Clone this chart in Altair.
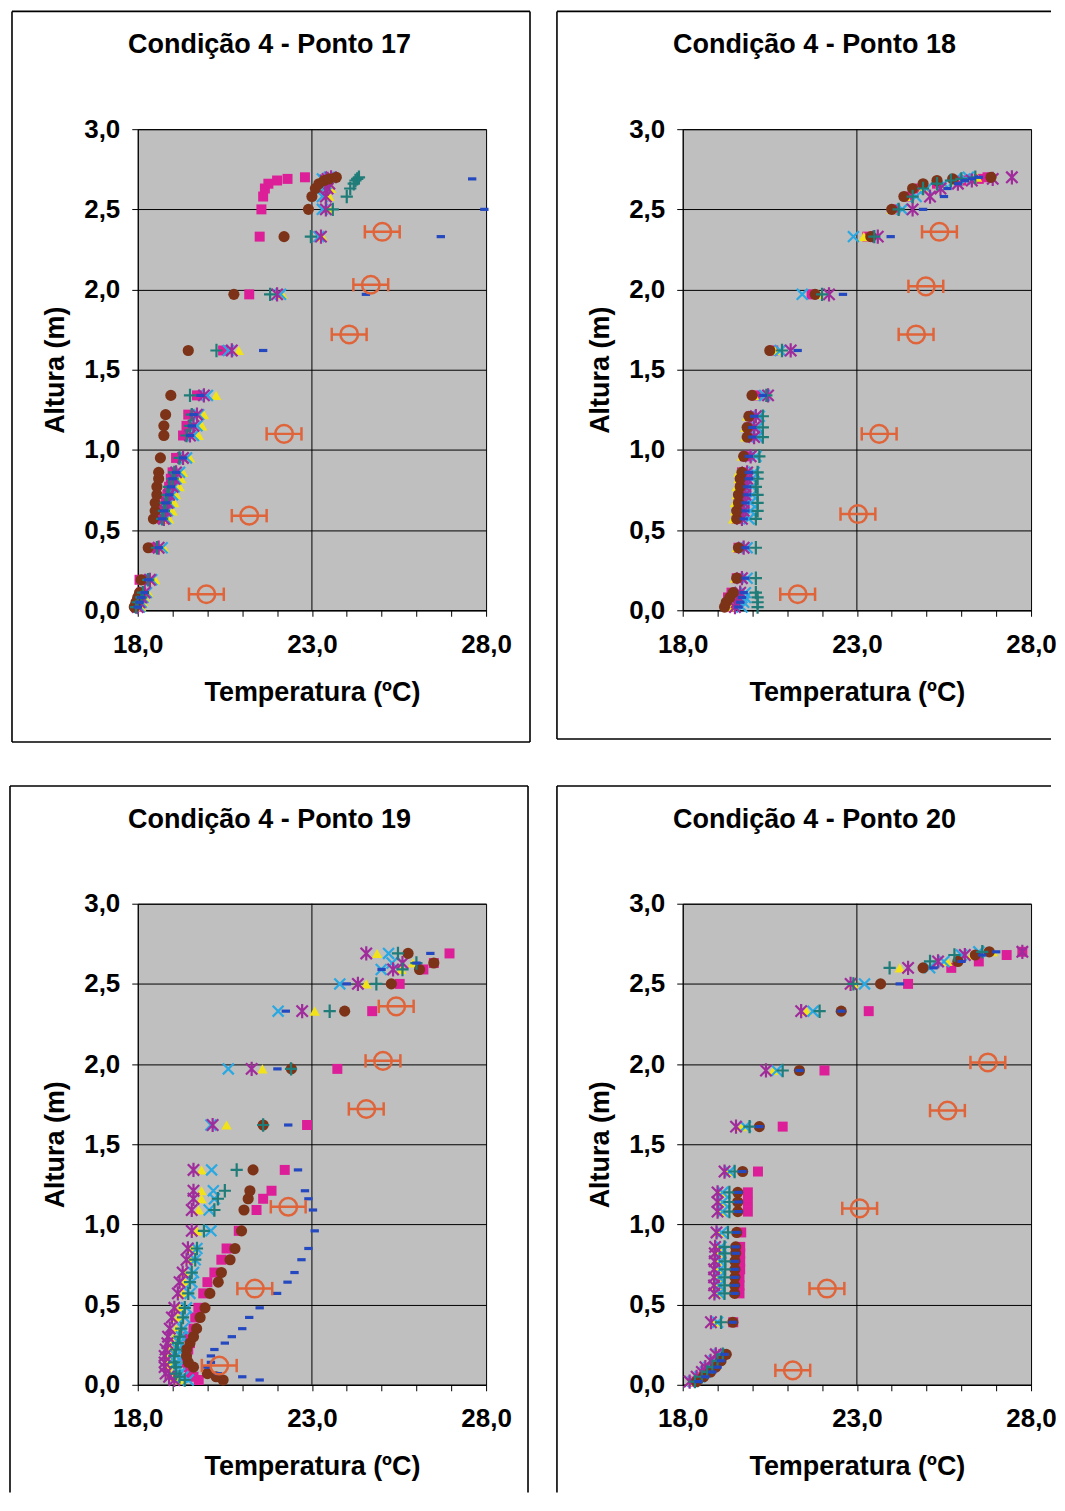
import altair as alt
import pandas as pd

FONT = "Liberation Sans"

# ---------------- data ----------------
X_TICKS = [18, 19, 20, 21, 22, 23, 24, 25, 26, 27, 28]
Y_TICKS = [0.0, 0.5, 1.0, 1.5, 2.0, 2.5, 3.0]
GRID_X = [23]

TITLES = ["Condição 4 - Ponto 17", "Condição 4 - Ponto 18",
          "Condição 4 - Ponto 19", "Condição 4 - Ponto 20"]

# Ponto 17
H17 = [0.02, 0.05, 0.08, 0.11, 0.19, 0.39, 0.57, 0.62, 0.67, 0.72, 0.77, 0.82, 0.86, 0.95,
       1.09, 1.15, 1.22, 1.34, 1.62, 1.97, 2.33, 2.50, 2.58, 2.63, 2.66, 2.68, 2.69, 2.70]
SQ17 = [17.95, 18.0, 18.05, 18.1, 18.05, 18.45, 18.7, 18.75, 18.8, 18.85, 18.9, 18.95, 19.0, 19.1,
        19.3, 19.4, 19.45, 19.7, 20.45, 21.2, 21.5, 21.55, 21.6, 21.65, 21.75, 22.0, 22.3, 22.8]
TRI17 = [18.1, 18.15, 18.2, 18.3, 18.5, 18.75, 18.9, 19.0, 19.05, 19.1, 19.2, 19.25, 19.3, 19.5,
         19.75, 19.85, 19.9, 20.25, 20.9, 22.15, 23.3, 23.5, 23.5, 23.55, 23.5, 23.45, 23.5, 23.4]
X17 = [18.05, 18.1, 18.15, 18.25, 18.4, 18.7, 18.8, 18.85, 18.9, 19.0, 19.05, 19.1, 19.2, 19.4,
       19.6, 19.7, 19.75, 20.0, 20.6, 22.1, 23.2, 23.3, 23.3, 23.35, 23.4, 23.35, 23.3, 23.5]
AST17 = [18.0, 18.05, 18.1, 18.2, 18.35, 18.6, 18.75, 18.8, 18.85, 18.9, 19.0, 19.05, 19.1, 19.3,
         19.5, 19.6, 19.7, 19.9, 20.7, 22.0, 23.26, 23.4, 23.4, 23.45, 23.5, 23.4, 23.45, 23.55]
CIR17 = [17.9, 17.95, 18.0, 18.05, 18.1, 18.3, 18.45, 18.5, 18.5, 18.55, 18.55, 18.6, 18.6, 18.65,
         18.75, 18.75, 18.8, 18.95, 19.45, 20.76, 22.2, 22.9, 23.0, 23.1, 23.2, 23.35, 23.5, 23.7]
PLUS17 = [17.95, 18.0, 18.1, 18.15, 18.3, 18.55, 18.7, 18.75, 18.8, 18.85, 18.9, 19.0, 19.05, 19.2,
          19.4, 19.5, 19.55, 19.5, 20.26, 21.8, 22.97, 23.6, 24.0, 24.1, 24.2, 24.25, 24.3, 24.35]
DASH17 = [18.0, 18.05, 18.1, 18.2, 18.3, 18.6, 18.7, 18.75, 18.8, 18.9, 18.95, 19.0, 19.1, 19.3,
          19.5, 19.55, 19.6, 19.8, 21.6, 24.55, 26.7, 27.95, None, None, None, None, 27.6, None]
REF17_T = [19.97, 21.2, 22.2, 24.07, 24.69, 25.02]
REF17_H = [0.10, 0.59, 1.10, 1.72, 2.03, 2.36]

# Ponto 18
H18 = [0.02, 0.05, 0.08, 0.11, 0.20, 0.39, 0.57, 0.62, 0.67, 0.72, 0.77, 0.82, 0.86, 0.96,
       1.08, 1.14, 1.21, 1.34, 1.62, 1.97, 2.33, 2.50, 2.58, 2.63, 2.66, 2.68, 2.69, 2.70]
SQ18 = [19.3, 19.35, 19.3, 19.4, 19.55, 19.6, 19.55, 19.6, 19.6, 19.65, 19.65, 19.7, 19.7, 19.8,
        19.9, 19.9, 19.95, 20.1, 20.6, 21.7, 23.3, 24.1, 24.5, 24.8, 25.3, 26.0, 26.5, 26.75]
TRI18 = [19.35, 19.4, 19.45, 19.5, 19.5, 19.55, 19.45, 19.5, 19.5, 19.55, 19.55, 19.6, 19.6, 19.7,
         19.8, 19.8, 19.85, 20.05, 20.65, 21.9, 23.2, 24.0, 24.4, 24.9, 25.4, 25.9, 26.3, 26.45]
X18 = [19.7, 19.75, 19.8, 19.8, 19.85, 19.85, 19.9, 19.95, 19.95, 20.0, 20.0, 20.0, 20.05, 20.1,
       20.15, 20.15, 20.2, 20.35, 20.8, 21.43, 22.9, 24.3, 24.7, 25.0, 25.5, 25.8, 26.1, 26.2]
AST18 = [19.5, 19.55, 19.6, 19.65, 19.7, 19.75, 19.7, 19.75, 19.75, 19.8, 19.8, 19.85, 19.85, 19.95,
         20.05, 20.05, 20.1, 20.45, 21.1, 22.2, 23.6, 24.6, 25.1, 25.4, 25.9, 26.3, 26.9, 27.45]
CIR18 = [19.2, 19.25, 19.35, 19.45, 19.55, 19.6, 19.55, 19.55, 19.6, 19.6, 19.65, 19.65, 19.7, 19.75,
         19.85, 19.85, 19.9, 19.99, 20.5, 21.8, 23.4, 24.0, 24.35, 24.6, 24.9, 25.3, 25.75, 26.85]
PLUS18 = [20.15, 20.15, 20.15, 20.1, 20.1, 20.1, 20.1, 20.15, 20.15, 20.15, 20.1, 20.15, 20.15, 20.2,
          20.3, 20.3, 20.3, 20.4, 20.85, 22.0, 23.5, 24.2, 24.6, 24.9, 25.3, 25.7, 26.0, 26.4]
DASH18 = [19.6, 19.65, 19.7, 19.75, 19.8, 19.8, 19.75, 19.8, 19.8, 19.85, 19.85, 19.9, 19.9, 19.9,
          20.0, 20.0, 20.05, 20.3, 21.3, 22.6, 23.97, 24.9, 25.5, 25.6, 25.9, 26.1, 26.3, 26.5]
REF18_T = [21.3, 23.03, 23.64, 24.7, 24.98, 25.37]
REF18_H = [0.10, 0.60, 1.10, 1.72, 2.02, 2.36]

# Ponto 19
H19 = [0.03, 0.05, 0.07, 0.11, 0.14, 0.18, 0.22, 0.26, 0.30, 0.35, 0.42, 0.48, 0.57, 0.64, 0.70,
       0.78, 0.85, 0.96, 1.09, 1.16, 1.21, 1.34, 1.62, 1.97, 2.33, 2.50, 2.59, 2.63, 2.69]
SQ19 = [19.75, 19.6, 19.5, 19.45, 19.4, 19.4, 19.45, 19.5, 19.45, 19.6, 19.65, 19.74, 19.88, 20.0, 20.2,
        20.4, 20.55, 20.9, 21.41, 21.6, 21.84, 22.22, 22.86, 23.73, 24.73, 25.52, 26.2, 26.5, 26.95]
TRI19 = [19.2, 19.05, 18.95, 18.9, 18.9, 18.9, 18.95, 19.0, 19.05, 19.1, 19.15, 19.2, 19.3, 19.35, 19.35,
         19.5, 19.55, 19.7, 19.75, 19.83, 19.83, 19.83, 20.55, 21.58, 23.08, 24.56, 25.56, 25.9, 24.87]
X19 = [19.45, 19.3, 19.2, 19.15, 19.1, 19.1, 19.15, 19.2, 19.25, 19.3, 19.35, 19.4, 19.5, 19.55, 19.6,
       19.65, 19.7, 20.1, 20.05, 20.2, 20.17, 20.12, 20.1, 20.6, 22.03, 23.8, 24.99, 25.3, 25.2]
AST19 = [19.05, 18.9, 18.8, 18.77, 18.77, 18.77, 18.8, 18.85, 18.87, 18.92, 18.98, 19.05, 19.15, 19.2, 19.29,
         19.4, 19.44, 19.55, 19.55, 19.6, 19.6, 19.6, 20.15, 21.27, 22.72, 24.32, 25.33, 25.6, 24.56]
CIR19 = [20.45, 20.25, 20.0, 19.6, 19.45, 19.4, 19.4, 19.5, 19.6, 19.69, 19.79, 19.93, 20.07, 20.31, 20.4,
         20.65, 20.79, 20.98, 21.05, 21.17, 21.22, 21.31, 21.6, 22.41, 23.94, 25.28, 26.09, 26.5, 25.76]
PLUS19 = [19.35, 19.2, 19.1, 19.1, 19.05, 19.05, 19.1, 19.15, 19.2, 19.25, 19.3, 19.35, 19.45, 19.5, 19.55,
          19.65, 19.7, 19.9, 20.2, 20.3, 20.5, 20.84, 21.6, 22.4, 23.51, 24.85, 25.6, 26.0, 25.47]
DASH19 = [21.5, 21.0, 20.3, 20.0, 20.1, 20.1, 20.2, 20.5, 20.7, 21.0, 21.2, 21.5, 22.0, 22.3, 22.5,
          22.7, 22.9, 23.08, 23.03, 22.9, 22.8, 22.6, 22.32, 22.01, 22.25, 24.0, 25.0, 26.0, 26.4]
REF19_T = [20.34, 21.36, 22.32, 24.56, 25.04, 25.42]
REF19_H = [0.12, 0.60, 1.11, 1.72, 2.02, 2.36]

# Ponto 20
H20 = [0.02, 0.05, 0.08, 0.11, 0.15, 0.19, 0.39, 0.57, 0.62, 0.67, 0.72, 0.77, 0.82, 0.86,
       0.95, 1.08, 1.14, 1.20, 1.33, 1.61, 1.96, 2.33, 2.50, 2.60, 2.64, 2.68, 2.70]
SQ20 = [18.3, 18.5, 18.7, 18.85, 19.0, 19.15, 19.45, 19.63, 19.63, 19.63, 19.65, 19.65, 19.65, 19.65,
        19.68, 19.87, 19.87, 19.87, 20.16, 20.87, 22.07, 23.34, 24.47, 25.71, 26.5, 27.3, 27.75]
TRI20 = [18.25, 18.45, 18.6, 18.7, 18.85, 19.0, 18.9, 18.98, 18.98, 19.0, 19.0, 19.0, 19.02, 19.02,
         19.05, 19.1, 19.1, 19.1, 19.3, 19.7, 20.6, 21.55, 22.9, 24.23, 25.6, 26.3, 26.9]
X20 = [18.3, 18.5, 18.65, 18.75, 18.9, 19.05, 19.0, 19.05, 19.05, 19.05, 19.08, 19.08, 19.1, 19.1,
       19.12, 19.15, 19.15, 19.15, 19.35, 19.8, 20.7, 21.74, 23.22, 25.09, 25.5, 26.0, 26.5]
AST20 = [18.2, 18.4, 18.55, 18.65, 18.8, 18.95, 18.81, 18.91, 18.9, 18.9, 18.9, 18.92, 18.92, 18.93,
         18.97, 19.0, 19.0, 19.0, 19.2, 19.53, 20.39, 21.4, 22.82, 24.47, 25.33, 26.1, 27.75]
CIR20 = [18.4, 18.6, 18.8, 18.95, 19.1, 19.25, 19.44, 19.49, 19.49, 19.5, 19.5, 19.5, 19.52, 19.52,
         19.55, 19.58, 19.58, 19.58, 19.72, 20.2, 21.35, 22.55, 23.68, 24.9, 25.9, 26.4, 26.8]
PLUS20 = [18.35, 18.55, 18.7, 18.85, 19.0, 19.15, 19.1, 19.2, 19.2, 19.2, 19.22, 19.22, 19.2, 19.2,
          19.3, 19.34, 19.34, 19.34, 19.49, 19.92, 20.87, 21.93, 22.9, 23.94, 25.1, 25.8, 26.6]
DASH20 = [18.45, 18.65, 18.85, 19.0, 19.1, 19.2, 19.44, 19.5, 19.5, 19.5, 19.5, 19.5, 19.52, 19.52,
          19.55, 19.6, 19.6, 19.6, 19.72, 20.2, 21.35, 22.55, 24.23, 25.2, 26.0, 26.6, 27.0]
REF20_T = [21.16, 22.14, 23.08, 25.6, 26.76]
REF20_H = [0.09, 0.60, 1.10, 1.71, 2.01]

ERR = [0.5]

# ---------------- styles ----------------
SERIES = ["sq", "tri", "x", "ast", "cir", "plus", "dash"]
STYLE = {
    "sq":   dict(shape="square", filled=True, color="#dc1f98", size=100),
    "tri":  dict(shape="triangle-up", filled=True, color="#f2e21a", size=110),
    "x":    dict(shape="M-1,-1L1,1M-1,1L1,-1", filled=False, color="#2aa8e2", size=120, strokeWidth=2.2),
    "ast":  dict(shape="M-1,-1L1,1M-1,1L1,-1M0,-1.25L0,1.25", filled=False, color="#a02c9c", size=130, strokeWidth=2.2),
    "cir":  dict(shape="circle", filled=True, color="#7c3318", size=125),
    "plus": dict(shape="M-1,0L1,0M0,-1.1L0,1.1", filled=False, color="#1f7c78", size=150, strokeWidth=2.2),
    "dash": dict(shape="M-1,-0.38L1,-0.38L1,0.38L-1,0.38Z", filled=True, color="#2448c0", size=70),
}
REF_COLOR = "#e0643a"
W, H = 349, 482

x_scale = alt.Scale(domain=[18, 28], nice=False, zero=False, padding=0)
y_scale = alt.Scale(domain=[0, 3], nice=False, zero=False, padding=0)
x_axis = alt.Axis(
    title="Temperatura (ºC)", values=X_TICKS, grid=False, tickSize=6, labelFlush=False,
    labelExpr="(datum.value == 18 || datum.value == 23 || datum.value == 28) ? replace(format(datum.value, '.1f'), '.', ',') : ''",
    labelPadding=15, titlePadding=22,
)
y_axis = alt.Axis(
    title="Altura (m)", values=Y_TICKS, grid=True, gridColor="black", gridWidth=1, gridOpacity=1,
    tickSize=6, labelFlush=False, labelExpr="replace(format(datum.value, '.1f'), '.', ',')",
    labelPadding=12, titlePadding=14,
)


def frame_layers(L, R, T, B, right, bottom):
    one = pd.DataFrame({"k": [0]})
    rule = dict(color="black", strokeWidth=1.6)
    out = [
        alt.Chart(one).mark_rule(**rule).encode(x=alt.value(-L), x2=alt.value(W + R), y=alt.value(-T)),
        alt.Chart(one).mark_rule(**rule).encode(x=alt.value(-L), y=alt.value(-T), y2=alt.value(H + B)),
    ]
    if right:
        out.append(alt.Chart(one).mark_rule(**rule).encode(x=alt.value(W + R), y=alt.value(-T), y2=alt.value(H + B)))
    if bottom:
        out.append(alt.Chart(one).mark_rule(**rule).encode(x=alt.value(-L), x2=alt.value(W + R), y=alt.value(H + B)))
    return out


def panel(title, Hs, series_vals, RT, RH, frame):
    rows = []
    for name, vals in zip(SERIES, series_vals):
        for h, t in zip(Hs, vals):
            if t is not None:
                rows.append({"s": name, "h": h, "t": t})
    df = pd.DataFrame(rows)
    ref = pd.DataFrame({"t": RT, "h": RH})

    layers = []
    layers.append(
        alt.Chart(pd.DataFrame({"g": GRID_X})).mark_rule(color="black", strokeWidth=1).encode(
            x=alt.X("g:Q", scale=x_scale, axis=x_axis)
        )
    )
    for name in SERIES:
        st = STYLE[name]
        kw = dict(shape=st["shape"], filled=st["filled"], color=st["color"], size=st["size"], opacity=1)
        if "strokeWidth" in st:
            kw["strokeWidth"] = st["strokeWidth"]
        layers.append(
            alt.Chart(df).transform_filter(alt.datum.s == name).mark_point(**kw).encode(
                x=alt.X("t:Q", scale=x_scale, axis=x_axis),
                y=alt.Y("h:Q", scale=y_scale, axis=y_axis),
            )
        )
    refb = alt.Chart(ref).transform_calculate(
        lo=f"datum.t - {ERR[0]}", hi=f"datum.t + {ERR[0]}"
    )
    layers.append(
        refb.mark_rule(color=REF_COLOR, strokeWidth=2.5).encode(
            x=alt.X("lo:Q", scale=x_scale, axis=x_axis), x2="hi:Q",
            y=alt.Y("h:Q", scale=y_scale, axis=y_axis),
        )
    )
    for f in ["lo", "hi"]:
        layers.append(
            refb.mark_point(shape="M0,-1L0,1", filled=False, color=REF_COLOR, size=180,
                            strokeWidth=2.5, opacity=1).encode(
                x=alt.X(f"{f}:Q", scale=x_scale, axis=x_axis),
                y=alt.Y("h:Q", scale=y_scale, axis=y_axis),
            )
        )
    layers.append(
        refb.mark_point(shape="circle", filled=False, color=REF_COLOR, size=310,
                        strokeWidth=2.5, opacity=1).encode(
            x=alt.X("t:Q", scale=x_scale, axis=x_axis),
            y=alt.Y("h:Q", scale=y_scale, axis=y_axis),
        )
    )
    layers += frame_layers(*frame)
    layers.append(
        alt.Chart(pd.DataFrame({"title": [title]})).mark_text(
            font=FONT, fontSize=27, fontWeight="bold", align="center", baseline="middle", color="black"
        ).encode(x=alt.value(132), y=alt.value(-84), text="title:N")
    )
    return alt.layer(*layers).properties(width=W, height=H)


p17 = panel(TITLES[0], H17, [SQ17, TRI17, X17, AST17, CIR17, PLUS17, DASH17], REF17_T, REF17_H,
            (126, 44, 118, 132, True, True))
p18 = panel(TITLES[1], H18, [SQ18, TRI18, X18, AST18, CIR18, PLUS18, DASH18], REF18_T, REF18_H,
            (126, 20, 118, 129, False, True))
p19 = panel(TITLES[2], H19, [SQ19, TRI19, X19, AST19, CIR19, PLUS19, DASH19], REF19_T, REF19_H,
            (128, 42, 118, 108, True, False))
p20 = panel(TITLES[3], H20, [SQ20, TRI20, X20, AST20, CIR20, PLUS20, DASH20], REF20_T, REF20_H,
            (126, 20, 118, 108, False, False))

chart = alt.vconcat(
    alt.hconcat(p17, p18, spacing=23),
    alt.hconcat(p19, p20, spacing=25),
    spacing=40,
).properties(
    padding=0,
    background="white",
).configure_view(
    fill="#bfbfbf", stroke="black", strokeWidth=1
).configure_axis(
    labelFont=FONT, labelFontSize=26, labelFontWeight="bold", labelColor="black",
    titleFont=FONT, titleFontSize=27, titleFontWeight="bold", titleColor="black",
    domainColor="black", tickColor="black", domainWidth=1, tickWidth=1,
)

chart.save("out.html", embed_options={"renderer": "svg", "actions": False})
